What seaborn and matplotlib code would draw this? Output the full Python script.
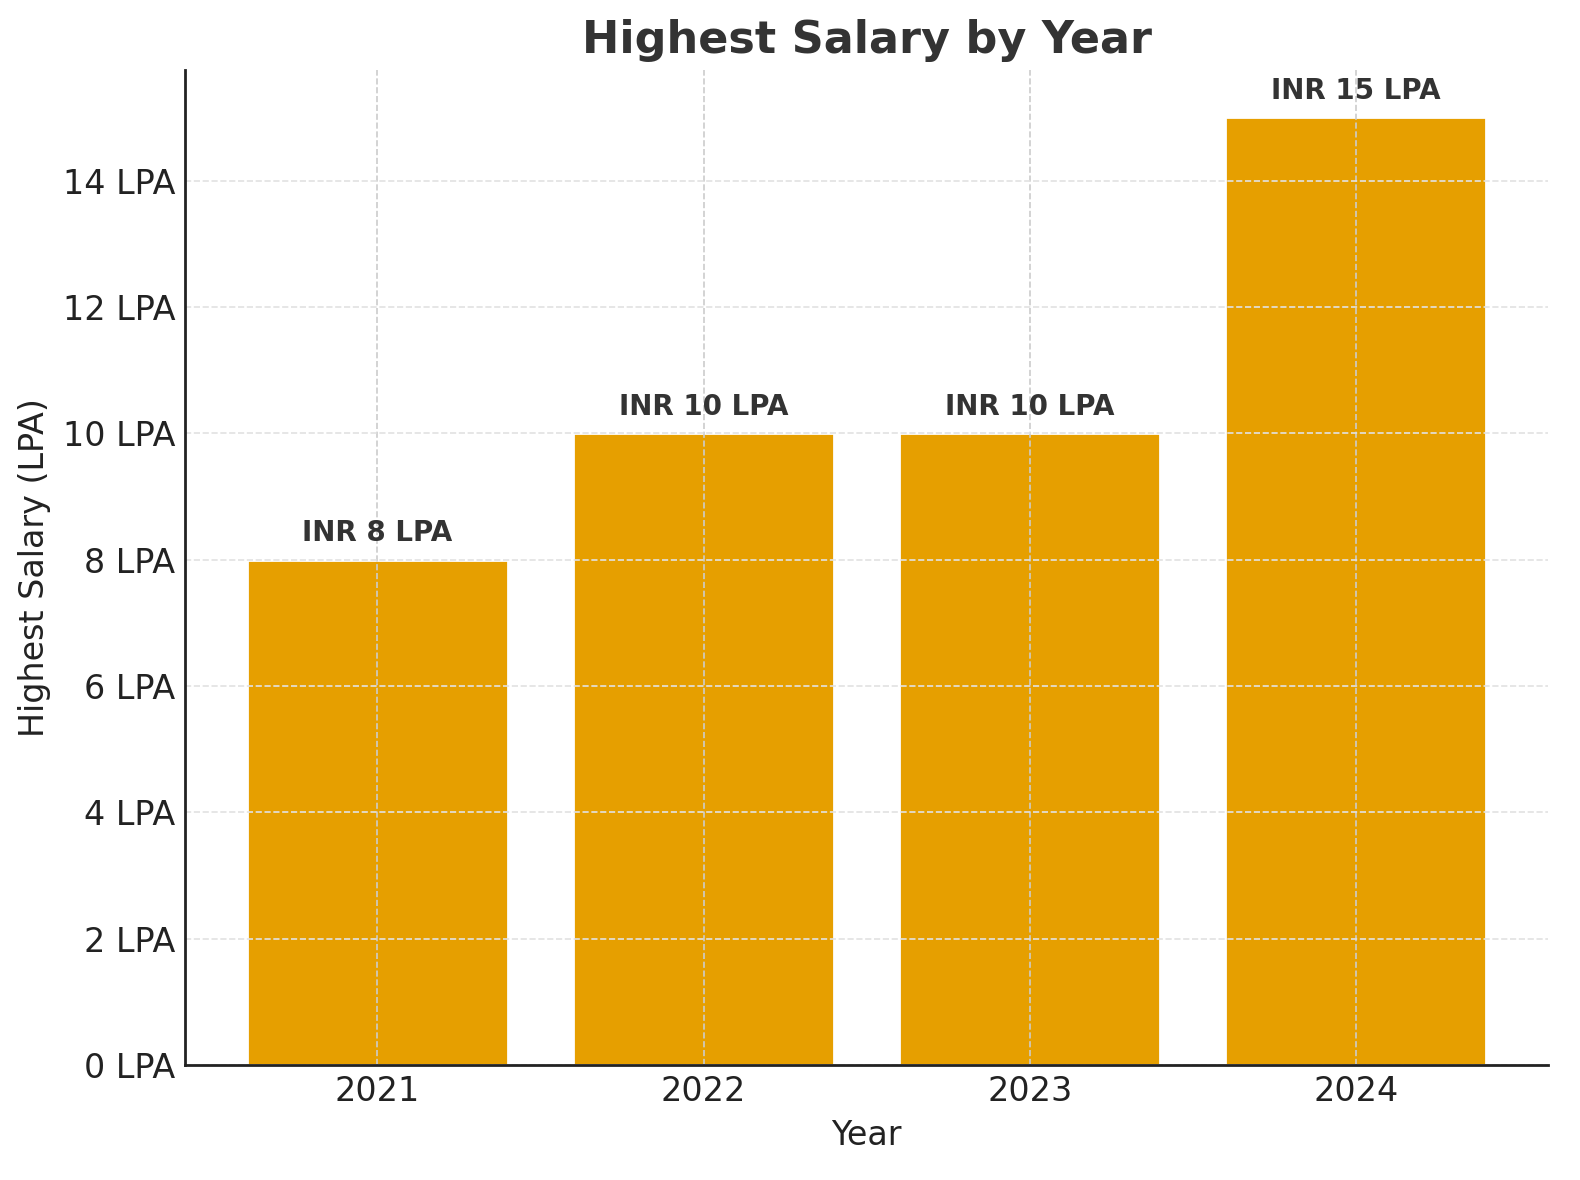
import pandas as pd
import matplotlib
matplotlib.use("Agg")
import matplotlib.pyplot as plt
from matplotlib.ticker import FuncFormatter
import seaborn as sns

# data
years = ["2021", "2022", "2023", "2024"]
salary_lpa = [8, 10, 10, 15]
bar_labels = ["INR 8 LPA", "INR 10 LPA", "INR 10 LPA", "INR 15 LPA"]

df = pd.DataFrame({"year": years, "salary": salary_lpa})

sns.set_style("white")
plt.rcParams["font.family"] = ["DejaVu Sans"]

fig, ax = plt.subplots(figsize=(7.9, 5.9), dpi=200)
fig.subplots_adjust(left=0.117, right=0.98, bottom=0.0975, top=0.9407)

sns.barplot(data=df, x="year", y="salary", color="#E69F00", saturation=1,
            width=0.8, ax=ax, zorder=1)

# bar value labels
for i, (v, lab) in enumerate(zip(df["salary"], bar_labels)):
    ax.text(i, v + 0.2, lab, ha="center", va="bottom", fontsize=10,
            fontweight="bold", color="#333333")

ax.set_xlim(-0.59, len(years) - 0.41)
ax.set_ylim(0, max(salary_lpa) * 1.05)
ax.yaxis.set_major_formatter(FuncFormatter(lambda x, _: f"{int(x)} LPA"))

ax.set_title("Highest Salary by Year", fontsize=16, fontweight="bold", color="#333333")
ax.set_xlabel("Year", fontsize=12, color="#222222")
ax.set_ylabel("Highest Salary (LPA)", fontsize=12, color="#222222")
ax.tick_params(axis="both", labelsize=12, direction="in", length=3.5, width=1,
               colors="#222222")

# dashed grid drawn over the bars
ax.set_axisbelow(False)
ax.grid(axis="x", linestyle="--", color="#cccccc", linewidth=0.6)
ax.grid(axis="y", linestyle="--", color="#e2e2e2", linewidth=0.6)

sns.despine(ax=ax)
for side in ["left", "bottom"]:
    ax.spines[side].set_color("#222222")
    ax.spines[side].set_linewidth(1)
    ax.spines[side].set_zorder(5)

fig.savefig("out.png", dpi=200)
